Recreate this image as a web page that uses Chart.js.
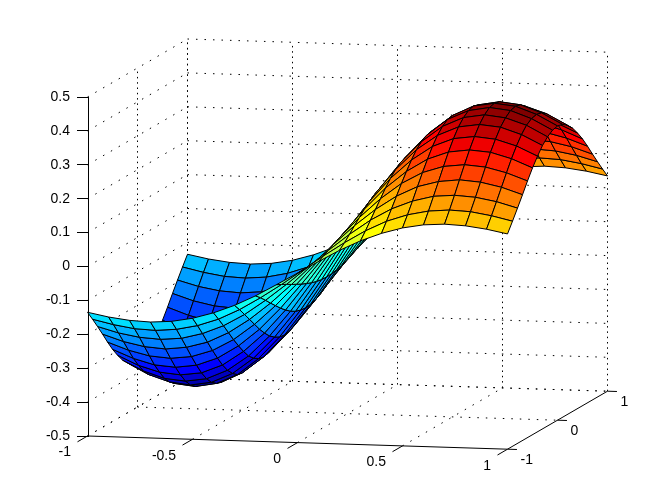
<!DOCTYPE html>
<html>
<head>
<meta charset="utf-8">
<style>html,body{margin:0;padding:0;background:#fff}canvas{display:block}</style>
<script src="https://cdn.jsdelivr.net/npm/chart.js@4"></script>
</head>
<body>
<canvas id="c" width="672" height="504"></canvas>
<script>
const xValues=[-1,-0.9,-0.8,-0.7,-0.6,-0.5,-0.4,-0.3,-0.2,-0.1,0,0.1,0.2,0.3,0.4,0.5,0.6,0.7,0.8,0.9,1];
const yValues=[-1,-0.9,-0.8,-0.7,-0.6,-0.5,-0.4,-0.3,-0.2,-0.1,0,0.1,0.2,0.3,0.4,0.5,0.6,0.7,0.8,0.9,1];
const zY10=[-0.135,-0.147,-0.155,-0.158,-0.154,-0.143,-0.125,-0.101,-0.071,-0.036,0,0.036,0.071,0.101,0.125,0.143,0.154,0.158,0.155,0.147,0.135];
const zY09=[-0.164,-0.178,-0.188,-0.191,-0.186,-0.173,-0.152,-0.122,-0.085,-0.044,0,0.044,0.085,0.122,0.152,0.173,0.186,0.191,0.188,0.178,0.164];
const zY08=[-0.194,-0.211,-0.222,-0.226,-0.221,-0.205,-0.180,-0.145,-0.101,-0.052,0,0.052,0.101,0.145,0.180,0.205,0.221,0.226,0.222,0.211,0.194];
const zY07=[-0.225,-0.245,-0.258,-0.263,-0.256,-0.239,-0.209,-0.168,-0.118,-0.061,0,0.061,0.118,0.168,0.209,0.239,0.256,0.263,0.258,0.245,0.225];
const zY06=[-0.257,-0.279,-0.294,-0.299,-0.292,-0.272,-0.238,-0.191,-0.134,-0.069,0,0.069,0.134,0.191,0.238,0.272,0.292,0.299,0.294,0.279,0.257];
const zY05=[-0.287,-0.312,-0.329,-0.334,-0.326,-0.303,-0.265,-0.214,-0.150,-0.077,0,0.077,0.150,0.214,0.265,0.303,0.326,0.334,0.329,0.312,0.287];
const zY04=[-0.313,-0.341,-0.359,-0.365,-0.357,-0.332,-0.290,-0.234,-0.164,-0.084,0,0.084,0.164,0.234,0.290,0.332,0.357,0.365,0.359,0.341,0.313];
const zY03=[-0.336,-0.366,-0.386,-0.392,-0.383,-0.356,-0.312,-0.251,-0.176,-0.090,0,0.090,0.176,0.251,0.312,0.356,0.383,0.392,0.386,0.366,0.336];
const zY02=[-0.353,-0.385,-0.405,-0.412,-0.402,-0.374,-0.327,-0.263,-0.185,-0.095,0,0.095,0.185,0.263,0.327,0.374,0.402,0.412,0.405,0.385,0.353];
const zY01=[-0.364,-0.396,-0.418,-0.425,-0.414,-0.386,-0.337,-0.271,-0.190,-0.098,0,0.098,0.190,0.271,0.337,0.386,0.414,0.425,0.418,0.396,0.364];
const zY00=[-0.368,-0.400,-0.422,-0.429,-0.419,-0.389,-0.341,-0.274,-0.192,-0.099,0,0.099,0.192,0.274,0.341,0.389,0.419,0.429,0.422,0.400,0.368];
const zRows=[zY10,zY09,zY08,zY07,zY06,zY05,zY04,zY03,zY02,zY01,zY00,zY01,zY02,zY03,zY04,zY05,zY06,zY07,zY08,zY09,zY10];
const xTicks=[-1,-0.5,0,0.5,1];
const xTickLabels=['-1','-0.5','0','0.5','1'];
const yTicks=[-1,0,1];
const yTickLabels=['-1','0','1'];
const zTicks=[-0.5,-0.4,-0.3,-0.2,-0.1,0,0.1,0.2,0.3,0.4,0.5];
const zTickLabels=['-0.5','-0.4','-0.3','-0.2','-0.1','0','0.1','0.2','0.3','0.4','0.5'];

// Oblique view of the box, expressed in the chart's two scales
const K_UY=50/210, K_VX=6.6/339, K_VY=29/339;
const U=(x,y)=>x+K_UY*(y+1);
const V=(x,y,z)=>z-K_VX*(x+1)+K_VY*(y+1);
const P=(x,y,z)=>({x:U(x,y),y:V(x,y,z)});

function jet(i){
  const r=i<24?0:i<=39?(i-23)/16:i<=55?1:(71-i)/16;
  const g=i<8?0:i<=23?(i-7)/16:i<=39?1:i<=55?(55-i)/16:0;
  const b=i<=7?(i+9)/16:i<=23?1:i<=39?(39-i)/16:0;
  return `rgb(${Math.round(r*255)},${Math.round(g*255)},${Math.round(b*255)})`;
}
const allZ=zRows.flat();
const cMin=Math.min(...allZ), cMax=Math.max(...allZ);
const colorOf=z=>jet(Math.max(0,Math.min(63,Math.floor((z-cMin)/(cMax-cMin)*64))));

const base={showLine:true,pointRadius:0,pointHoverRadius:0,tension:0,clip:false,fill:false};
const datasets=[];
const solid=(pts)=>datasets.push({...base,data:pts,borderColor:'#000',borderWidth:1});
const zLow=zTicks[0], zHigh=zTicks[zTicks.length-1];
const xLo=xValues[0], xHi=xValues[20], yLo=yValues[0], yHi=yValues[20];

// axes and tick marks
solid([P(xLo,yLo,zLow),P(xHi,yLo,zLow)]);
solid([P(xHi,yLo,zLow),P(xHi,yHi,zLow)]);
xTicks.forEach(x=>solid([P(x,yLo,zLow),P(x,yLo-0.2,zLow)]));
yTicks.forEach(y=>solid([P(xHi,y,zLow),P(xHi+0.045,y,zLow)]));

// surface, nearest cell first (first dataset is painted on top)
for(let j=0;j<20;j++){
  for(let i=19;i>=0;i--){
    const x0=xValues[i],x1=xValues[i+1],y0=yValues[j],y1=yValues[j+1];
    const a=P(x0,y0,zRows[j][i]);
    datasets.push({...base,fill:'shape',
      data:[a,P(x1,y0,zRows[j][i+1]),P(x1,y1,zRows[j+1][i+1]),P(x0,y1,zRows[j+1][i]),a],
      backgroundColor:colorOf(zRows[j][i]),borderColor:'#000',borderWidth:1,borderJoinStyle:'round'});
  }
}

// dotted grid on the floor and the two back walls
const dotted=(pts,dash)=>datasets.push({...base,data:pts,borderColor:'#000',borderWidth:1,borderDash:dash});
const DASH_H=[1.5,7], DASH_V=[1.5,3.8], DASH_S=[1.5,7.5];
xTicks.forEach(x=>{
  if(x!==xHi) dotted([P(x,yLo,zLow),P(x,yHi,zLow)],DASH_S);
  dotted([P(x,yHi,zLow),P(x,yHi,zHigh)],DASH_V);
});
yTicks.forEach(y=>{
  if(y!==yLo) dotted([P(xLo,y,zLow),P(xHi,y,zLow)],DASH_H);
  if(y!==yLo) dotted([P(xLo,y,zLow),P(xLo,y,zHigh)],DASH_V);
});
zTicks.forEach(z=>{
  dotted([P(xLo,yHi,z),P(xHi,yHi,z)],DASH_H);
  dotted([P(xLo,yLo,z),P(xLo,yHi,z)],DASH_S);
});

const axisText={id:'axisText',afterDraw(chart){
  const c=chart.ctx,sx=chart.scales.x,sy=chart.scales.y;
  c.save();
  c.font='14px "Liberation Sans", Arial, sans-serif';
  c.fillStyle='#000';
  c.textBaseline='middle';
  c.textAlign='right';
  xTicks.forEach((x,k)=>c.fillText(xTickLabels[k],sx.getPixelForValue(U(x,yLo))-16.5,sy.getPixelForValue(V(x,yLo,zLow))+16.5));
  c.textAlign='left';
  yTicks.forEach((y,k)=>c.fillText(yTickLabels[k],sx.getPixelForValue(U(xHi,y))+13,sy.getPixelForValue(V(xHi,y,zLow))+10.5));
  c.restore();
}};

const uMin=-1+0.5/210;
new Chart(document.getElementById('c'),{
  type:'scatter',
  data:{datasets},
  plugins:[axisText],
  options:{
    responsive:false,animation:false,events:[],
    layout:{padding:{top:97,right:64,bottom:68,left:0}},
    plugins:{legend:{display:false},tooltip:{enabled:false},title:{display:false}},
    scales:{
      x:{type:'linear',display:false,min:uMin,max:uMin+520/210},
      y:{type:'linear',min:zLow,max:zHigh,
        afterFit(s){s.width=88;},
        afterBuildTicks(s){s.ticks=zTicks.map(v=>({value:v}));},
        grid:{drawOnChartArea:false,drawTicks:true,tickLength:11,tickColor:'#000',tickWidth:1},
        border:{display:true,color:'#000',width:1},
        ticks:{autoSkip:false,padding:7,color:'#000',font:{family:'"Liberation Sans", Arial, sans-serif',size:14},
          callback:(v,i)=>zTickLabels[i]}
      }
    }
  }
});
</script>
</body>
</html>
